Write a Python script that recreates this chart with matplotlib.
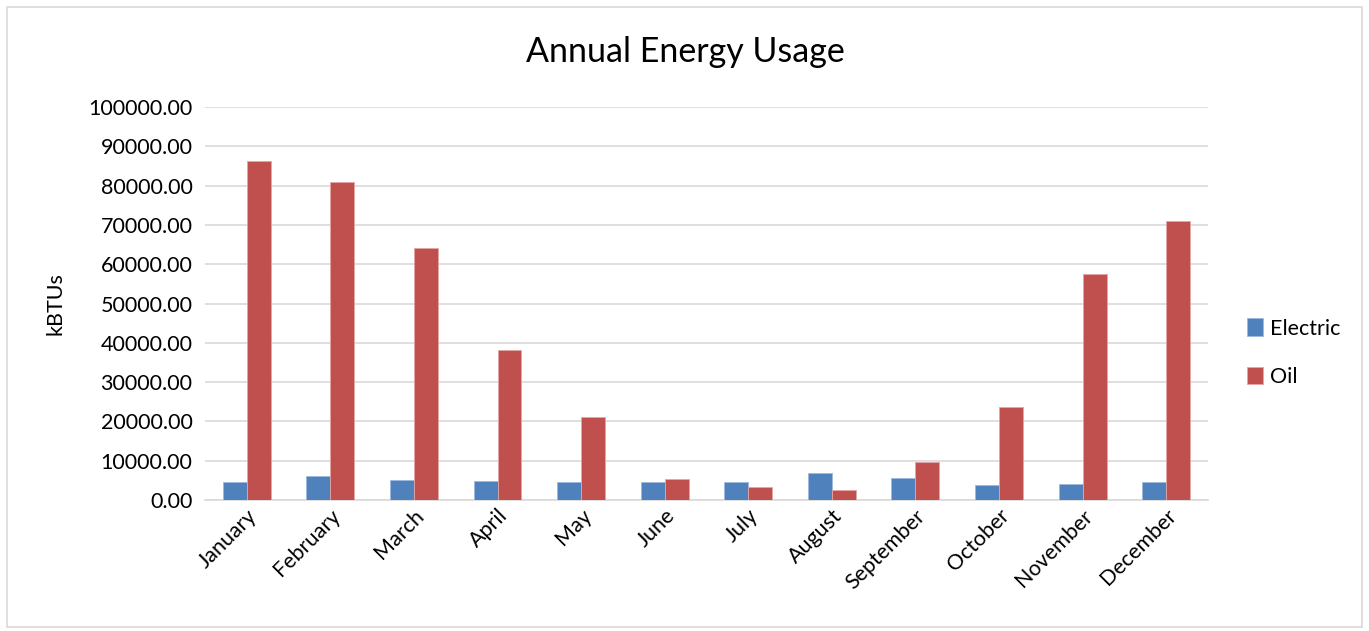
import matplotlib

matplotlib.use("Agg")

import matplotlib.pyplot as plt  # noqa: E402
import numpy as np  # noqa: E402
from matplotlib.patches import Rectangle  # noqa: E402
from matplotlib.ticker import FuncFormatter, MultipleLocator  # noqa: E402

plt.rcParams["font.family"] = ["Lato", "DejaVu Sans"]

# monthly energy use, kBTU
months = ["January", "February", "March", "April", "May", "June",
          "July", "August", "September", "October", "November", "December"]
electric = [4500, 6100, 5100, 4900, 4600, 4700, 4700, 6800, 5550, 3800, 4150, 4650]
oil = [86200, 80900, 64100, 38100, 21200, 5450, 3300, 2550, 9550, 23750, 57500, 71000]

BLUE = "#4F81BD"
RED = "#C0504D"
GRID = "#D9D9D9"
TEXT = "#000000"

fig = plt.figure(figsize=(13.69, 6.31), dpi=100)
ax = fig.add_axes([0.1497, 0.2076, 0.7327, 0.6228])

x = np.arange(len(months))
w = 0.287
ax.bar(x - w / 2, electric, w, color=BLUE, edgecolor="#9DB9DD", linewidth=0.6,
       label="Electric", zorder=3)
ax.bar(x + w / 2, oil, w, color=RED, edgecolor="#E3A7A5", linewidth=0.6,
       label="Oil", zorder=3)

ax.set_xlim(-0.5, len(months) - 0.5)
ax.set_ylim(0, 100000)
ax.yaxis.set_major_locator(MultipleLocator(10000))
ax.yaxis.set_major_formatter(FuncFormatter(lambda v, _: f"{v:.2f}"))
ax.grid(axis="y", color=GRID, linewidth=1.2, zorder=0)
ax.set_axisbelow(True)

for side in ("top", "right", "left"):
    ax.spines[side].set_visible(False)
ax.spines["bottom"].set_color(GRID)
ax.spines["bottom"].set_linewidth(1.2)

ax.tick_params(axis="y", length=0, pad=9, labelsize=15.5, labelcolor=TEXT)
ax.tick_params(axis="x", length=0, pad=4, labelsize=15.5, labelcolor=TEXT)
ax.set_xticks(x)
ax.set_xticklabels(months, rotation=45, ha="right", rotation_mode="anchor")

ax.set_ylabel("kBTUs", fontsize=15.5, labelpad=16)
fig.text(0.501, 0.918, "Annual Energy Usage", ha="center", va="center", fontsize=24.5)

ax.legend(loc="center left", bbox_to_anchor=(1.02, 0.375), frameon=False,
          fontsize=15.5, handlelength=0.7, handleheight=0.9, handletextpad=0.35,
          labelspacing=1.3)

fig.patches.append(Rectangle((0.005, 0.007), 0.99, 0.982, transform=fig.transFigure,
                             fill=False, edgecolor=GRID, linewidth=1.2))

fig.savefig("out.png", dpi=100)
